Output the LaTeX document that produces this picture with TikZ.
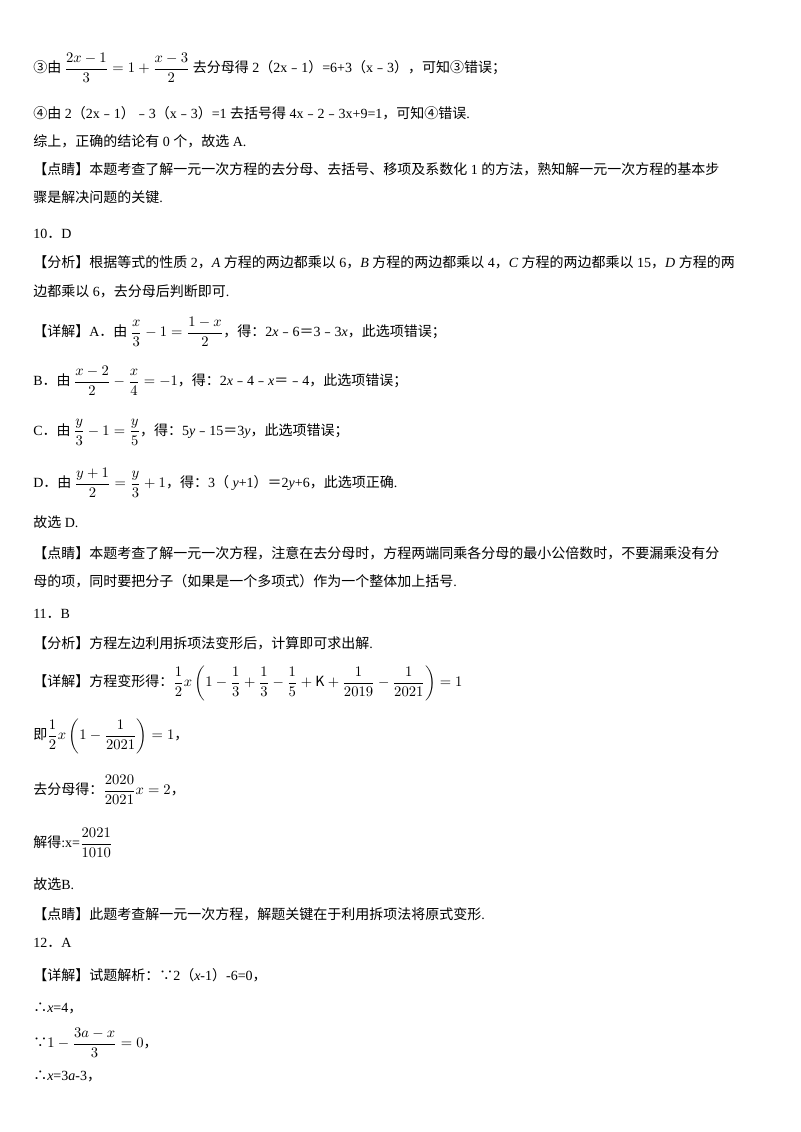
\documentclass[tikz,border=0pt]{standalone}
\usepackage{amsmath}
\usepackage{fontspec}
\setmainfont{Noto Sans CJK SC}
\newfontfamily\lt{Liberation Serif}
\newcommand{\R}[1]{{\lt #1}}
\newcommand{\mi}{{\rmfamily ﹣}}
\begin{document}
\begin{tikzpicture}[x=0.75pt,y=-0.75pt,
  ln/.style={anchor=west,inner sep=0pt,font=\fontsize{10.5pt}{12pt}\selectfont}]
\useasboundingbox[fill=white] (0,0) rectangle (800,1132);
\node[ln] (l1) at (33,68) {③由 $\dfrac{2x-1}{3}=1+\dfrac{x-3}{2}$ 去分母得\R{ 2}（\R{2x\mi1}）\R{=6+3}（\R{x\mi3}），可知③错误；};
\node[ln] (l2) at (33,113) {④由\R{ 2}（\R{2x\mi1}）\R{\mi3}（\R{x\mi3}）\R{=1 }去括号得\R{ 4x\mi2\mi3x+9=1}，可知④错误\R{.}};
\node[ln] (l3) at (33,141) {综上，正确的结论有\R{ 0 }个，故选\R{ A.}};
\node[ln] (l4) at (33,169) {【点睛】本题考查了解一元一次方程的去分母、去括号、移项及系数化\R{ 1 }的方法，熟知解一元一次方程的基本步};
\node[ln] (l5) at (33,197) {骤是解决问题的关键\R{.}};
\node[ln] (l6) at (33,234) {\R{10}．\R{D}};
\node[ln] (l7) at (33,262) {【分析】根据等式的性质\R{ 2}，\R{\itshape A }方程的两边都乘以\R{ 6}，\R{\itshape B }方程的两边都乘以\R{ 4}，\R{\itshape C }方程的两边都乘以\R{ 15}，\R{\itshape D }方程的两};
\node[ln] (l8) at (33,291) {边都乘以\R{ 6}，去分母后判断即可\R{.}};
\node[ln] (l9) at (33,332) {【详解】\R{A}．由 $\dfrac{x}{3}-1=\dfrac{1-x}{2}$，得：\R{2\textit{x}\mi6}＝\R{3\mi3\textit{x}}，此选项错误；};
\node[ln] (l10) at (33,381) {\R{B}．由 $\dfrac{x-2}{2}-\dfrac{x}{4}=-1$，得：\R{2\textit{x}\mi4\mi\textit{x}}＝\R{\mi4}，此选项错误；};
\node[ln] (l11) at (33,432) {\R{C}．由 $\dfrac{y}{3}-1=\dfrac{y}{5}$，得：\R{5\textit{y}\mi15}＝\R{3\textit{y}}，此选项错误；};
\node[ln] (l12) at (33,483) {\R{D}．由 $\dfrac{y+1}{2}=\dfrac{y}{3}+1$，得：\R{3}（\R{ \textit{y}+1}）＝\R{2\textit{y}+6}，此选项正确\R{.}};
\node[ln] (l13) at (33,522) {故选\R{ D.}};
\node[ln] (l14) at (33,553) {【点睛】本题考查了解一元一次方程，注意在去分母时，方程两端同乘各分母的最小公倍数时，不要漏乘没有分};
\node[ln] (l15) at (33,581) {母的项，同时要把分子（如果是一个多项式）作为一个整体加上括号\R{.}};
\node[ln] (l16) at (33,614) {\R{11}．\R{B}};
\node[ln] (l17) at (33,643) {【分析】方程左边利用拆项法变形后，计算即可求出解\R{.}};
\node[ln] (l18) at (33,683) {【详解】方程变形得：$\dfrac12 x\left(1-\dfrac13+\dfrac13-\dfrac15+\mathrm{K}+\dfrac{1}{2019}-\dfrac{1}{2021}\right)=1$};
\node[ln] (l19) at (33,736) {即$\dfrac12 x\left(1-\dfrac{1}{2021}\right)=1$，};
\node[ln] (l20) at (33,790) {去分母得：$\dfrac{2020}{2021}x=2$，};
\node[ln] (l21) at (33,843) {解得\R{:x=}$\dfrac{2021}{1010}$};
\node[ln] (l22) at (33,884) {故选\R{B.}};
\node[ln] (l23) at (33,914) {【点睛】此题考查解一元一次方程，解题关键在于利用拆项法将原式变形\R{.}};
\node[ln] (l24) at (33,943) {\R{12}．\R{A}};
\node[ln] (l25) at (33,975) {【详解】试题解析：∵\R{2}（\R{\textit{x}-1}）\R{-6=0}，};
\node[ln] (l26) at (33,1008) {∴\R{\textit{x}=4}，};
\node[ln] (l27) at (33,1043) {∵$1-\dfrac{3a-x}{3}=0$，};
\node[ln] (l28) at (33,1076) {∴\R{\textit{x}=3\textit{a}-3}，};
\end{tikzpicture}
\end{document}
